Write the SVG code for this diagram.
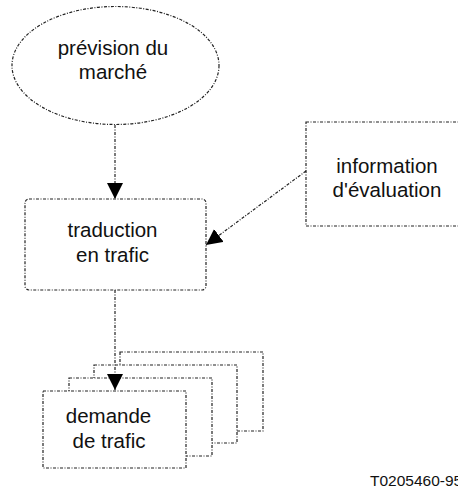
<svg xmlns="http://www.w3.org/2000/svg" width="458" height="487" viewBox="0 0 458 487">
  <defs>
    <marker id="arrow" viewBox="0 0 16 16" refX="16" refY="8" markerWidth="16" markerHeight="16" markerUnits="userSpaceOnUse" orient="auto">
      <path d="M0,0 L16,8 L0,16 Z" fill="#000"/>
    </marker>
    <style>
      .shape { fill: #fff; stroke: #222; stroke-width: 1.2; stroke-dasharray: 3 1.5 1 1.5; }
      .link { fill: none; stroke: #222; stroke-width: 1.2; stroke-dasharray: 3 1.5 1 1.5; }
      .label { font-family: "Liberation Sans", Arial, sans-serif; font-size: 20.5px; fill: #111; text-anchor: middle; }
      .ref { font-family: "Liberation Sans", Arial, sans-serif; font-size: 15.5px; fill: #111; }
    </style>
  </defs>

  <rect width="458" height="487" fill="#fff"/>

  <g id="prevision">
    <ellipse class="shape" cx="115.5" cy="65.5" rx="103.5" ry="59"/>
    <text class="label" x="113" y="55">prévision du</text>
    <text class="label" x="113" y="79">marché</text>
  </g>

  <g id="information">
    <rect class="shape" x="306" y="122" width="170" height="104"/>
    <text class="label" x="387" y="173">information</text>
    <text class="label" x="387" y="197">d'évaluation</text>
  </g>

  <g id="traduction">
    <rect class="shape" x="25" y="199" width="181" height="91" rx="4" ry="4"/>
    <text class="label" x="112.5" y="237">traduction</text>
    <text class="label" x="112.5" y="262">en trafic</text>
  </g>

  <g id="demande">
    <rect class="shape" x="120" y="352" width="143" height="79"/>
    <rect class="shape" x="94" y="365" width="143" height="78"/>
    <rect class="shape" x="69" y="378" width="143" height="78"/>
    <rect class="shape" x="43" y="391" width="143" height="77"/>
    <text class="label" x="108.5" y="423">demande</text>
    <text class="label" x="109" y="448">de trafic</text>
  </g>

  <g id="connectors">
    <line class="link" x1="115" y1="125" x2="115" y2="199" marker-end="url(#arrow)"/>
    <line class="link" x1="306" y1="171" x2="206" y2="245" marker-end="url(#arrow)"/>
    <line class="link" x1="115" y1="290" x2="115" y2="390" marker-end="url(#arrow)"/>
  </g>

  <text class="ref" x="370" y="486">T0205460-95</text>
</svg>
